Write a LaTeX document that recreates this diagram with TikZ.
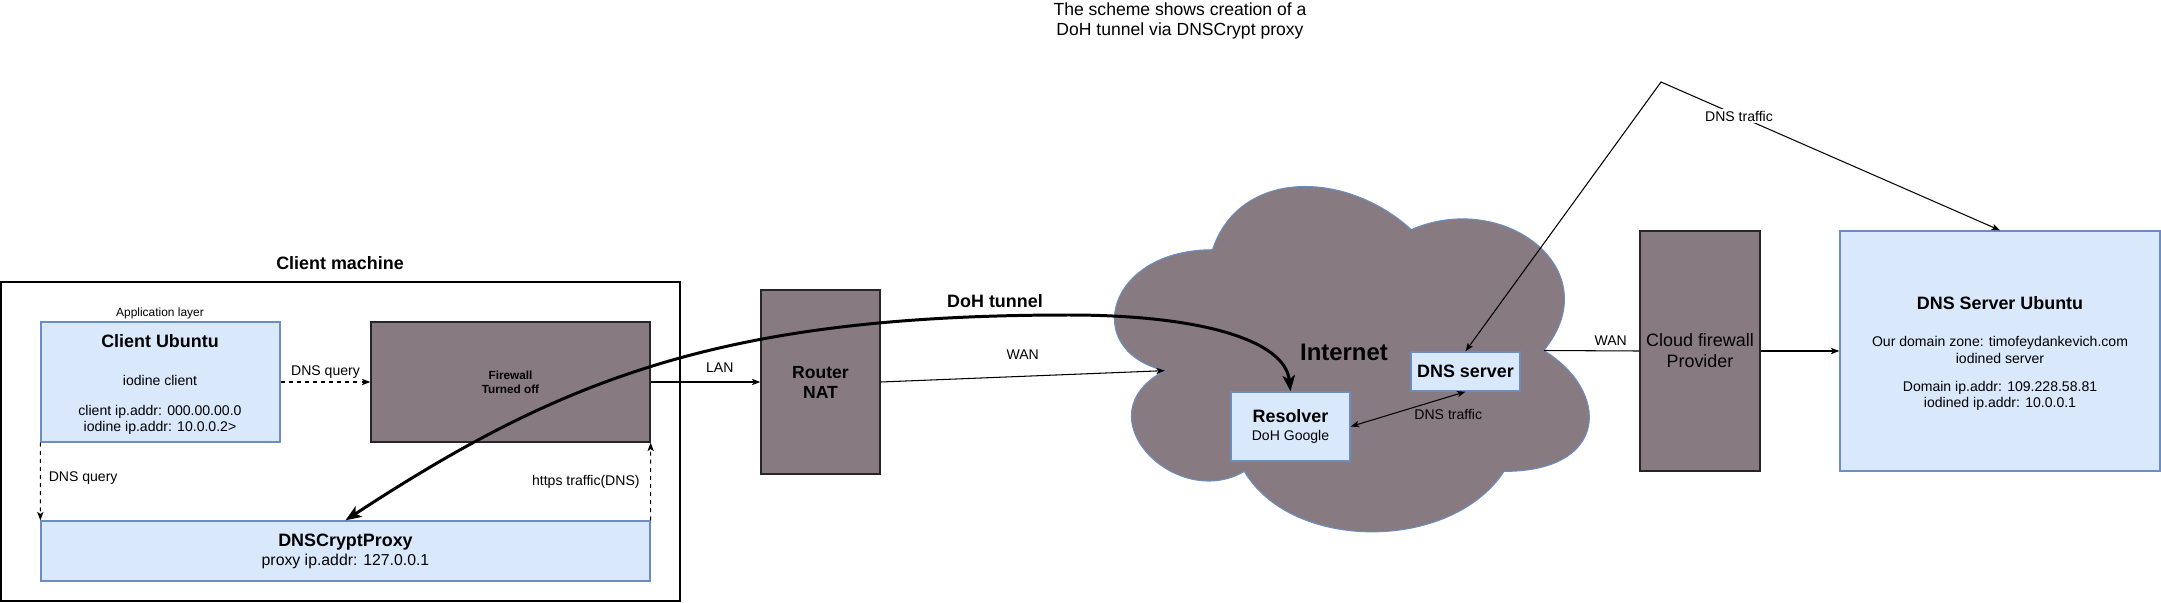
\documentclass[tikz,border=0pt]{standalone}
\usepackage{fontspec}
\setmainfont{Liberation Sans}
\usetikzlibrary{arrows.meta}
\definecolor{bluefill}{HTML}{DAE8FC}
\definecolor{blueedge}{HTML}{6C8EBF}
\definecolor{grayfill}{HTML}{877A81}
\tikzset{
      bluebox/.style={
          rectangle,
          draw=blueedge,
          fill=bluefill,
          line width=0.8pt,
          inner sep=0pt
      },
      graybox/.style={
          rectangle,
          draw=black!85,
          fill=grayfill,
          line width=0.8pt,
          inner sep=0pt
      },
      txt/.style={inner sep=1pt, align=center, font=\fontsize{8}{9.2}\selectfont},
      headtxt/.style={inner sep=1pt, align=center, font=\fontsize{10.2}{11.4}\selectfont\bfseries},
      link/.style={->, >={Stealth[length=4.8pt, width=3.6pt, inset=1.2pt]}, line width=0.6pt},
      dlink/.style={link, dash pattern=on 2.3pt off 2.3pt},
      tunnel/.style={<->, >={Stealth[length=9pt, width=7pt, inset=2.2pt]}, line width=1.7pt}
  }

\begin{document}
\begin{tikzpicture}[x=0.02cm, y=-0.02cm]
    \useasboundingbox (0,0) rectangle (2161,602);

    \node [txt, font=\fontsize{10}{11.5}\selectfont] (title) at (1180,21) {The scheme shows creation of a\\DoH tunnel via DNSCrypt proxy};

    %% client machine
    \node [rectangle, draw=black, line width=0.7pt, minimum width=13.58cm, minimum height=6.38cm] (machine) at (340.5,441.5) {};
    \node [headtxt] (machinetitle) at (340,263) {Client machine};
    \node [txt, font=\fontsize{6.8}{8}\selectfont] (applayer) at (160,313) {Application layer};

    \node [bluebox, minimum width=4.78cm, minimum height=2.4cm] (ubuntu) at (160.5,382) {};
    \node [headtxt] (ubuntutitle) at (160,341) {Client Ubuntu};
    \node [txt] (iodinecl) at (160,380) {iodine client};
    \node [txt] (clientip) at (160,420) {client ip.addr: 000.00.00.0\\iodine ip.addr: 10.0.0.2>};

    \node [graybox, minimum width=5.58cm, minimum height=2.4cm, align=center, font=\fontsize{6.7}{7.8}\selectfont\bfseries] (firewall) at (510.5,382) {Firewall\\Turned off};

    \node [bluebox, minimum width=12.18cm, minimum height=1.2cm, align=center, font=\fontsize{10.2}{10.8}\selectfont] (proxy) at (345.5,551) {\textbf{DNSCryptProxy}\\\fontsize{9}{10.8}\selectfont proxy ip.addr: 127.0.0.1};

    %% router
    \node [graybox, minimum width=2.38cm, minimum height=3.68cm, align=center, font=\fontsize{10}{11.4}\selectfont\bfseries] (router) at (820.5,382) {Router\\NAT};

    %% internet
    \draw [draw=blueedge, fill=grayfill, line width=0.6pt] (1212.5,249.75)
        .. controls (1106.5,249.75) and (1080,350.5) .. (1164.8,370.65)
        .. controls (1080,415) and (1175.4,511.7) .. (1244.3,471.4)
        .. controls (1292,552) and (1451,552) .. (1504,471.4)
        .. controls (1610,471.4) and (1610,390.8) .. (1543.75,350.5)
        .. controls (1610,269.9) and (1504,189.3) .. (1411.25,229.6)
        .. controls (1345,169.15) and (1239,169.15) .. (1212.5,249.75) -- cycle;
    \coordinate (cloudin) at (1164.8,370.65);
    \coordinate (cloudout) at (1543.75,350.5);
    \node [inner sep=1pt, font=\fontsize{13.6}{15}\selectfont\bfseries] (inet) at (1344,352) {Internet};

    \node [bluebox, minimum width=2.18cm, minimum height=0.78cm, font=\fontsize{10.2}{11.4}\selectfont\bfseries] (dnssrv) at (1465.5,371.5) {DNS server};
    \node [bluebox, minimum width=2.38cm, minimum height=1.38cm, align=center, font=\fontsize{10.2}{10.2}\selectfont] (resolver) at (1290.5,426.5) {\textbf{Resolver}\\\fontsize{8}{10.2}\selectfont DoH Google};

    %% provider side
    \node [graybox, minimum width=2.4cm, minimum height=4.8cm, align=center, font=\fontsize{10.2}{12}\selectfont] (cfw) at (1700,351) {Cloud firewall\\Provider};

    \node [bluebox, minimum width=6.4cm, minimum height=4.8cm] (dnsub) at (2000,351) {};
    \node [headtxt] (dnsubtitle) at (2000,303) {DNS Server Ubuntu};
    \node [txt] (zone) at (2000,350) {Our domain zone: timofeydankevich.com\\iodined server};
    \node [txt] (domainip) at (2000,396) {Domain ip.addr: 109.228.58.81\\iodined ip.addr: 10.0.0.1};

    %% connectors
    \draw [dlink] (ubuntu.east) -- node[txt, above=1pt] (q1) {DNS query} (firewall.west);
    \draw [dlink] (ubuntu.south west) -- node[txt, right=3.5pt, pos=.45] (q2) {DNS query} (proxy.north west);
    \draw [dlink] (proxy.north east) -- node[txt, left=5pt] (https) {https traffic(DNS)} (firewall.south east);

    \draw [link] (firewall.east) -- node[txt, above=4pt, pos=.63] (lan) {LAN} (router.west);
    \draw [link] (router.east) -- node[txt, above=8pt] (wan1) {WAN} (cloudin);
    \draw [line width=0.6pt] (cloudout) -- node[txt, above=2pt, pos=.7] (wan2) {WAN} (cfw.west);
    \draw [link] (cfw.east) -- (dnsub.west);

    \draw [link, <->] (resolver.east) -- node[txt, pos=.85, below=6pt] (tr1) {DNS traffic} (dnssrv.south);

    \coordinate (apex) at (1661,82);
    \draw [link, <->] (dnssrv.north) -- (apex) -- node[txt, pos=.23, fill=white] (tr2) {DNS traffic} (dnsub.north);

    %%
    \draw [tunnel] (proxy.north)
        .. controls (560,380) and (720,315) .. (1069,315)
        .. controls (1200,315) and (1285,340) .. (resolver.north);
    \node [headtxt] (doh) at (995,301) {DoH tunnel};
    %%

\end{tikzpicture}
\end{document}
